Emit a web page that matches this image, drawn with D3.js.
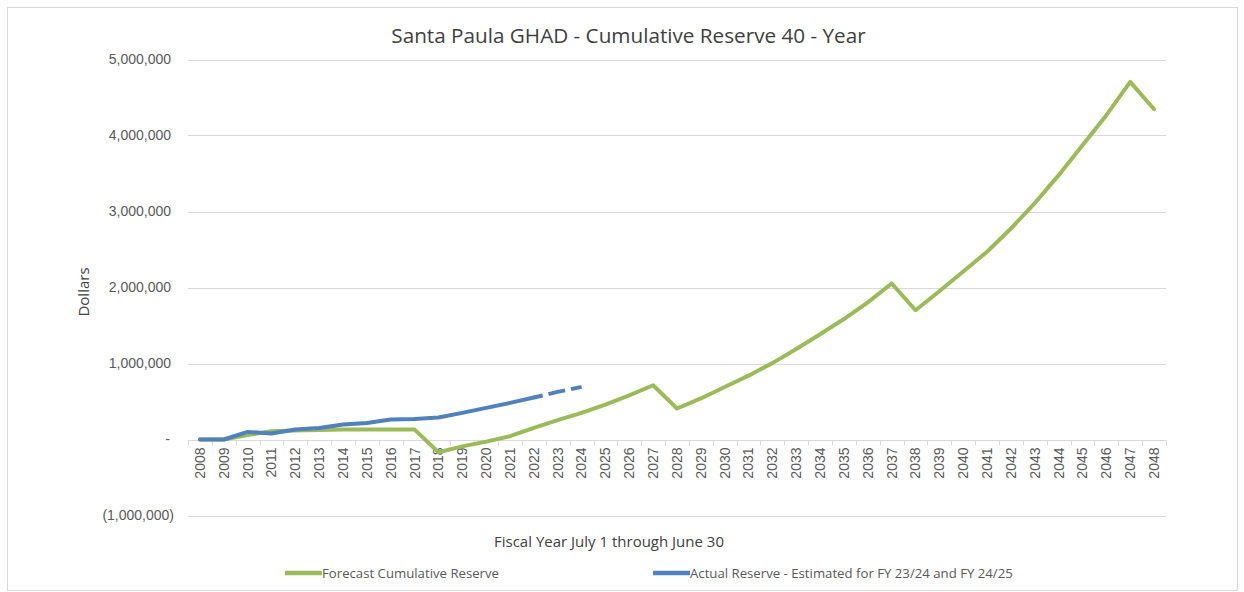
<!DOCTYPE html>
<html>
<head>
<meta charset="utf-8">
<script src="https://cdn.jsdelivr.net/npm/d3@7"></script>
<style>
  html, body { margin: 0; padding: 0; background: #fff; }
  svg { display: block; }
</style>
</head>
<body>
<svg id="chart" width="1244" height="592"></svg>
<script>
// ---- data ----
const years = d3.range(2008, 2049).map(String);
const forecastReserve = [
  0, 0, 60000, 110000, 120000, 125000, 130000, 130000, 130000, 130000,
  -167000, -90000, -28000, 43000, 153000, 254000, 350000, 460000, 580000, 714000,
  408000, 540000, 690000, 840000, 1005000, 1190000, 1385000, 1585000, 1805000, 2053000,
  1701000, 1950000, 2210000, 2470000, 2776000, 3110000, 3478000, 3872000, 4267000, 4705000,
  4346000
];
const actualYears = years.slice(0, 17); // 2008..2024
const actualReserve = [
  0, 0, 100000, 79000, 131000, 152000, 197000, 218000, 263000, 271000,
  289000, 350000, 416000, 482000, 553000, 626000, 692000
];
const estimatedFrom = "2022"; // dashed from this point (FY 23/24, FY 24/25 estimated)
const yTicks = [-1000000, 0, 1000000, 2000000, 3000000, 4000000, 5000000];
const titleText = "Santa Paula GHAD - Cumulative Reserve 40 - Year";
const xTitle = "Fiscal Year July 1 through June 30";
const yTitle = "Dollars";
const seriesNames = ["Forecast Cumulative Reserve", "Actual Reserve - Estimated for FY 23/24 and FY 24/25"];
const colors = ["#9BBB59", "#4F81BD"];

// ---- layout ----
const svg = d3.select("#chart");
const plotLeft = 188, plotRight = 1166, plotTop = 59.5, plotBottom = 515.5;
const x = d3.scaleBand().domain(years).range([plotLeft, plotRight]).padding(0);
const y = d3.scaleLinear().domain([-1000000, 5000000]).range([plotBottom, plotTop]);
const cx = d => x(d) + x.bandwidth() / 2;
const fontMain = "'Open Sans', 'Noto Sans', sans-serif";
const fontTick = "'Liberation Sans', Arial, sans-serif";

// chart border
svg.append("rect").attr("x", 7.5).attr("y", 7.5).attr("width", 1230).attr("height", 583)
  .attr("fill", "#fff").attr("stroke", "#D9D9D9").attr("stroke-width", 1);

// gridlines
svg.append("g").selectAll("line").data(yTicks.filter(v => v !== 0)).join("line")
  .attr("x1", plotLeft).attr("x2", plotRight)
  .attr("y1", d => Math.round(y(d)) + 0.5).attr("y2", d => Math.round(y(d)) + 0.5)
  .attr("stroke", "#D9D9D9").attr("stroke-width", 1);

// y tick labels
const fmt = d3.format(",");
svg.append("g").selectAll("text").data(yTicks).join("text")
  .attr("x", d => d === 0 ? 170 : (d < 0 ? 174 : 171))
  .attr("y", d => y(d)).attr("dy", "0.35em")
  .attr("text-anchor", "end")
  .attr("font-family", fontTick).attr("font-size", 14).attr("fill", "#595959")
  .text(d => d === 0 ? "-" : (d < 0 ? "(" + fmt(-d) + ")" : fmt(d)));

// x axis (at zero)
const y0 = Math.round(y(0)) + 0.5;
svg.append("line").attr("x1", plotLeft).attr("x2", plotRight).attr("y1", y0).attr("y2", y0)
  .attr("stroke", "#D9D9D9").attr("stroke-width", 1);
const bounds = years.map(d => x(d)).concat([plotRight]);
svg.append("g").selectAll("line").data(bounds).join("line")
  .attr("x1", d => Math.round(d) + 0.5).attr("x2", d => Math.round(d) + 0.5)
  .attr("y1", y0).attr("y2", y0 + 5)
  .attr("stroke", "#D9D9D9").attr("stroke-width", 1);
svg.append("g").selectAll("text").data(years).join("text")
  .attr("transform", d => `translate(${cx(d)},${y0 + 7}) rotate(-90)`)
  .attr("dy", "0.35em").attr("text-anchor", "end")
  .attr("font-family", fontTick).attr("font-size", 14).attr("fill", "#595959")
  .text(d => d);

// lines
const line = d3.line().x(d => cx(d[0])).y(d => y(d[1]));
const fData = years.map((yr, i) => [yr, forecastReserve[i]]);
svg.append("path").datum(fData).attr("d", line)
  .attr("fill", "none").attr("stroke", colors[0]).attr("stroke-width", 4)
  .attr("stroke-linejoin", "round").attr("stroke-linecap", "round");

const aData = actualYears.map((yr, i) => [yr, actualReserve[i]]);
const cut = actualYears.indexOf(estimatedFrom);
svg.append("path").datum(aData.slice(0, cut + 1)).attr("d", line)
  .attr("fill", "none").attr("stroke", colors[1]).attr("stroke-width", 4)
  .attr("stroke-linejoin", "round").attr("stroke-linecap", "round");
svg.append("path").datum(aData.slice(cut)).attr("d", line)
  .attr("fill", "none").attr("stroke", colors[1]).attr("stroke-width", 4)
  .attr("stroke-dasharray", "17,6").attr("stroke-dashoffset", 8);

// title
svg.append("text").attr("x", 628.5).attr("y", 43).attr("text-anchor", "middle")
  .attr("font-family", fontMain).attr("font-size", 20.7).attr("fill", "#404040")
  .text(titleText);

// axis titles
svg.append("text").attr("x", 609).attr("y", 547).attr("text-anchor", "middle")
  .attr("font-family", fontMain).attr("font-size", 15).attr("fill", "#404040")
  .text(xTitle);
svg.append("text").attr("transform", "translate(89,292) rotate(-90)").attr("text-anchor", "middle")
  .attr("font-family", fontMain).attr("font-size", 15).attr("fill", "#404040")
  .text(yTitle);

// legend
const legendX = [285, 653];
const lg = svg.append("g").selectAll("g").data(seriesNames).join("g")
  .attr("transform", (d, i) => `translate(${legendX[i]},573)`);
lg.append("line").attr("x1", 0).attr("x2", 37).attr("y1", 0).attr("y2", 0)
  .attr("stroke", (d, i) => colors[i]).attr("stroke-width", 4.5);
lg.append("text").attr("x", 37).attr("dy", "0.35em")
  .attr("font-family", fontMain).attr("font-size", 13.2).attr("fill", "#595959")
  .text(d => d);
</script>
</body>
</html>
